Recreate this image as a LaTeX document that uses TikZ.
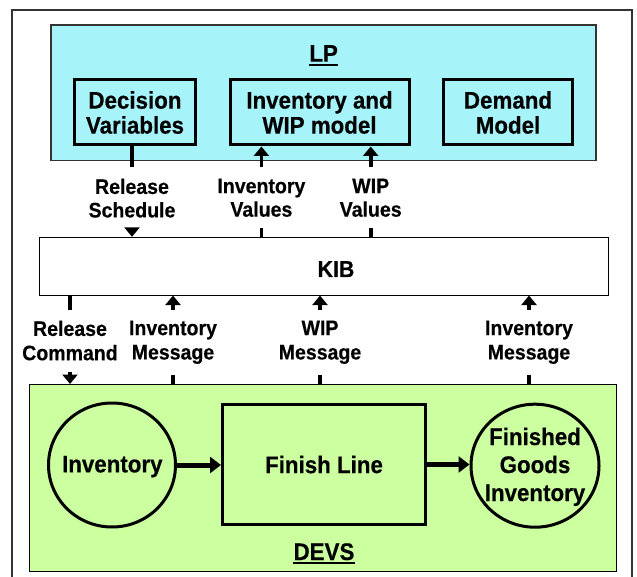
\documentclass[tikz,border=0pt]{standalone}
\usepackage{fontspec}
\setmainfont{Liberation Sans}[FakeStretch=0.93, BoldFeatures={FakeBold=0.4}]
\usetikzlibrary{arrows.meta,shapes.geometric}
\definecolor{lpcyan}{RGB}{166,244,250}
\definecolor{devsgreen}{RGB}{204,255,160}
\definecolor{framegray}{RGB}{51,51,51}
\begin{document}
\begin{tikzpicture}[x=1pt,y=-1pt,
  mainfont/.style={font=\bfseries\fontsize{24}{25}\selectfont},
  ibox/.style={draw=black, line width=3pt, mainfont, align=center, inner sep=0pt},
  lblu/.style={font=\bfseries\fontsize{21}{23.5}\selectfont, align=center, inner xsep=0pt, inner ysep=11pt, anchor=north},
  lbll/.style={font=\bfseries\fontsize{21}{24.3}\selectfont, align=center, inner xsep=0pt, inner ysep=11pt, anchor=north},
  conn/.style={line width=3.6pt},
  arr/.style={line width=3.6pt, -{Triangle[width=15pt,length=9.5pt]}},
  bigarr/.style={line width=5pt, -{Triangle[width=16pt,length=11pt]}},
  ell/.style={ellipse, draw=black, line width=3pt, inner sep=0pt},
  titletext/.style={mainfont, inner sep=0pt, anchor=base},
]
\clip (0,0) rectangle (637,577);
\fill[white] (0,0) rectangle (637,577);
\draw[framegray, line width=1.3pt] (12,10) rectangle (632,600);

% LP
\node[draw=framegray, line width=1.3pt, fill=lpcyan, minimum width=545pt, minimum height=135.5pt, inner sep=0pt] (lp) at (323.5,92.75) {};
\node[titletext] (lpt) at (323.6,61.7) {LP};
\draw[line width=2pt] ([yshift=-3.4pt]lpt.base west) -- ([yshift=-3.4pt]lpt.base east);
\node[ibox, minimum width=121pt, minimum height=65pt] (dv) at (135,112.5) {Decision\\Variables};
\node[ibox, minimum width=179pt, minimum height=65pt] (iwm) at (319.5,112.5) {Inventory and\\WIP model};
\node[ibox, minimum width=129pt, minimum height=65pt] (dm) at (508,112.5) {Demand\\Model};

% KIB
\node[draw=black, line width=1pt, fill=white, minimum width=569pt, minimum height=57.7pt, inner sep=0pt] (kib) at (324,266.2) {};
\node[font=\bfseries\fontsize{23}{25}\selectfont, inner sep=0pt, anchor=base] (kibt) at (336,277) {KIB};

% DEVS
\node[draw=black, line width=1pt, fill=devsgreen, minimum width=586.5pt, minimum height=187pt, inner sep=0pt] (devs) at (322.75,478) {};
\node[ell, minimum width=127pt, minimum height=124pt] (inv) at (112,465) {};
\node[mainfont, inner sep=0pt] (invt) at (112.3,466.6) {Inventory};
\node[ibox, minimum width=203pt, minimum height=120pt] (fl) at (324,464.5) {Finish Line};
\node[ell, minimum width=128pt, minimum height=123pt] (fgi) at (535,465.7) {};
\node[font=\bfseries\fontsize{24}{28}\selectfont, align=center, inner sep=0pt] (fgit) at (535,466.8) {Finished\\Goods\\Inventory};
\node[titletext] (devst) at (324,560) {DEVS};
\draw[line width=2pt] ([yshift=-3pt]devst.base west) -- ([yshift=-3pt]devst.base east);
\draw[bigarr] (inv.east) -- (inv.east -| fl.west);
\draw[bigarr] (fl.east) -- (fl.east -| fgi.west);

% upper labels and connectors
\node[lblu] (rs) at (132,167.5) {Release\\Schedule};
\node[lblu] (iv) at (261.4,167.5) {Inventory\\Values};
\node[lblu] (wv) at (370.7,167.5) {WIP\\Values};
\draw[conn] (rs |- dv.south) -- (rs.north);
\draw[arr] (rs.south) -- (rs.south |- kib.north);
\draw[arr] (iv.north) -- (iv.north |- iwm.south);
\draw[conn] (iv.south |- kib.north) -- (iv.south);
\draw[arr] (wv.north) -- (wv.north |- iwm.south);
\draw[conn] (wv.south |- kib.north) -- (wv.south);

% lower labels and connectors
\node[lbll] (rc) at (70,309.5) {Release\\Command};
\node[lbll] (im1) at (173,309.5) {Inventory\\Message};
\node[lbll] (wm) at (320,309.5) {WIP\\Message};
\node[lbll] (im2) at (529,309.5) {Inventory\\Message};
\draw[conn] (rc |- kib.south) -- (rc.north);
\draw[arr] (rc.south) -- (rc.south |- devs.north);
\draw[arr] (im1.north) -- (im1.north |- kib.south);
\draw[conn] (im1.south |- devs.north) -- (im1.south);
\draw[arr] (wm.north) -- (wm.north |- kib.south);
\draw[conn] (wm.south |- devs.north) -- (wm.south);
\draw[arr] (im2.north) -- (im2.north |- kib.south);
\draw[conn] (im2.south |- devs.north) -- (im2.south);
\end{tikzpicture}
\end{document}
